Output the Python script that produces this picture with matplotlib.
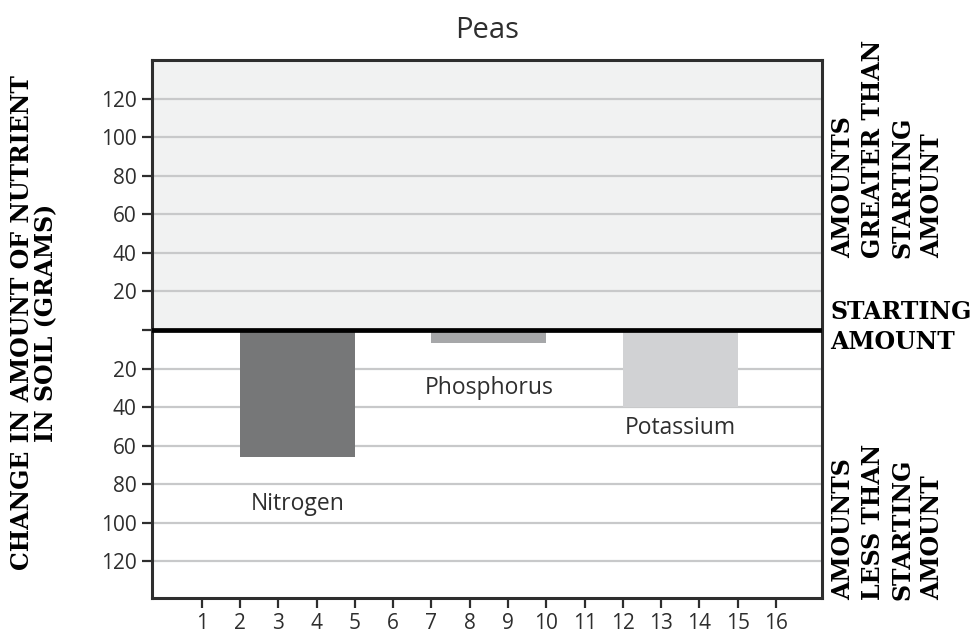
import matplotlib.pyplot as plt
from matplotlib import font_manager

# Data (change in grams, negative = less than start)
nutrients = ['Nitrogen', 'Phosphorus', 'Potassium']
changes = [-66, -7, -40]
bar_start = [2, 7, 12]
bar_end = [5, 10, 15]
bar_colors = ['#767778', '#a6a7a9', '#d1d2d4']
label_y = [-90, -30, -51]
x_ticks = list(range(1, 17))
y_ticks = [-120, -100, -80, -60, -40, -20, 0, 20, 40, 60, 80, 100, 120]
y_tick_labels = ['' if v == 0 else str(abs(v)) for v in y_ticks]

names = {f.name for f in font_manager.fontManager.ttflist}
slab = ['DejaVu Serif Condensed', 'DejaVu Serif'] if 'DejaVu Serif Condensed' in names else ['DejaVu Serif']
sans = 'Open Sans'
dark = '#2e2e2e'

fig = plt.figure(figsize=(9.77, 6.35), dpi=100)
ax = fig.add_axes([152 / 977, 1 - 598 / 635, 670 / 977, 538 / 635])

ax.axhspan(0, 140, color='#f1f2f2', zorder=0)
for v in y_ticks:
    if v != 0:
        ax.axhline(v, color='#c8c9ca', lw=1.6, zorder=1)

for s, e, c, col in zip(bar_start, bar_end, changes, bar_colors):
    ax.bar((s + e) / 2, c, width=e - s, color=col, zorder=2)

for s, e, name, ly in zip(bar_start, bar_end, nutrients, label_y):
    ax.text((s + e) / 2, ly, name, ha='center', va='center',
            fontsize=16.5, family=sans, color=dark, zorder=3)

ax.axhline(0, color='black', lw=3.4, zorder=4)

ax.set_xlim(-0.3, 17.2)
ax.set_ylim(-139, 140)
ax.set_xticks(x_ticks)
ax.set_xticklabels([str(t) for t in x_ticks])
ax.set_yticks(y_ticks)
ax.set_yticklabels(y_tick_labels)
ax.tick_params(direction='out', length=7, width=1.6, color=dark,
               labelsize=15, labelcolor=dark, pad=4)
for lab in ax.get_xticklabels() + ax.get_yticklabels():
    lab.set_family(sans)
for sp in ax.spines.values():
    sp.set_color(dark)
    sp.set_linewidth(2.2)

ax.set_title('Peas', fontsize=21, family=sans, color=dark, pad=16)

fig.text(34 / 977, 1 - 323 / 635, 'CHANGE IN AMOUNT OF NUTRIENT\nIN SOIL (GRAMS)',
         rotation=90, ha='center', va='center', multialignment='center',
         fontsize=17, fontweight='bold', family=slab, color='black', linespacing=1.0)

fig.text(831 / 977, 1 - 258 / 635, 'AMOUNTS\nGREATER THAN\nSTARTING\nAMOUNT',
         rotation=90, ha='left', va='bottom', multialignment='left',
         fontsize=17, fontweight='bold', family=slab, color='black', linespacing=1.3)
fig.text(830 / 977, 1 - 300 / 635, 'STARTING\nAMOUNT',
         ha='left', va='top', multialignment='left',
         fontsize=17, fontweight='bold', family=slab, color='black', linespacing=1.3)
fig.text(831 / 977, 1 - 600 / 635, 'AMOUNTS\nLESS THAN\nSTARTING\nAMOUNT',
         rotation=90, ha='left', va='bottom', multialignment='left',
         fontsize=17, fontweight='bold', family=slab, color='black', linespacing=1.3)

fig.savefig('out.png', dpi=100)
